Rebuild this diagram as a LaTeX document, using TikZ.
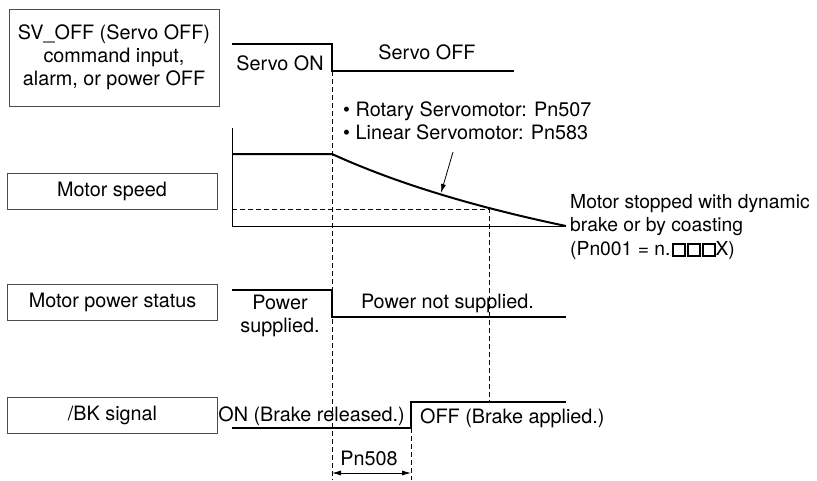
\documentclass[tikz,border=0pt]{standalone}
\usepackage{fontspec}
\setmainfont{TeX Gyre Heros}
\usetikzlibrary{arrows.meta, positioning}

\newcommand{\nsq}{\kern1pt{\setlength\fboxsep{0pt}\setlength\fboxrule{2pt}\fbox{\rule{0pt}{10pt}\hspace{10pt}}}}

\begin{document}
\begin{tikzpicture}[x=1pt, y=-1pt,
  font=\fontsize{19.8}{23}\selectfont,
  lbl/.style={draw=black!70, line width=0.9pt, minimum width=210pt, minimum height=36pt, align=center, inner sep=2pt},
  sig/.style={line width=2pt, line join=miter},
  guide/.style={line width=0.8pt, dash pattern=on 5pt off 3pt},
  tip/.style={-{Latex[length=9pt, width=5pt]}, line width=0.8pt},
  dim/.style={{Latex[length=9pt, width=5pt]}-{Latex[length=9pt, width=5pt]}, line width=0.8pt},
  txt/.style={inner sep=0pt}]

  \useasboundingbox (0,0) rectangle (817,480);

  % signal names
  \node[lbl, minimum height=97pt] (cmd) at (114,57.5) {SV\_OFF (Servo OFF)\\command input,\\alarm, or power OFF};
  \node[lbl] (speed) at (112,191) {Motor speed};
  \node[lbl] (power) at (112.5,302) {Motor power status};
  \node[lbl] (bk) at (112.5,415) {/BK signal};

  % timing points
  \coordinate (t0) at (332,71);
  \coordinate (t0b) at (332,480);
  \coordinate (t1) at (411,428);
  \coordinate (t1b) at (411,480);

  % servo command
  \draw[sig] (232,44) -| (t0) -- (514,71);
  \node[txt, anchor=base] (son) at (280,70) {Servo ON};
  \node[txt, anchor=base] (soff) at (427,59) {Servo OFF};

  % motor speed
  \draw[line width=0.9pt] (232,128) |- (566,226);
  \draw[sig] (232,154) -- (332,154) .. controls (400,185) and (480,208) .. (566,226);
  \draw[guide] (232,209) -| (489,402);
  \node[txt, anchor=base west, align=left] (decel) at (343,139) {\textbullet\ Rotary Servomotor: Pn507\\\textbullet\ Linear Servomotor: Pn583};
  \coordinate (decel tail) at (453,152);
  \coordinate (decel head) at (441,193);
  \draw[tip] (decel tail) -- (decel head);
  \node[txt, anchor=base west, align=left, font=\fontsize{19.3}{23.5}\selectfont] (stopnote) at (570,255) {Motor stopped with dynamic\\brake or by coasting\\(Pn001 = n.\nsq\nsq\nsq X)};

  % motor power
  \draw[sig] (232,290) -| (332,317) -- (566,317);
  \node[txt, anchor=base, align=center] (pon) at (280,332) {Power\\supplied.};
  \node[txt, anchor=base east] (poff) at (534,308) {Power not supplied.};

  % brake signal
  \draw[sig] (232,428) -| (411,402) -- (566,402);
  \node[txt, anchor=base east] (bkon) at (405,421) {ON (Brake released.)};
  \node[txt, anchor=base west] (bkoff) at (420,423) {OFF (Brake applied.)};

  % guides
  \draw[guide] (t0) -- (t0b);
  \draw[guide] (t1) -- (t1b);
  \coordinate (d0) at (332,473);
  \coordinate (d1) at (411,473);
  \draw[dim] (d0) -- (d1);
  \node[txt, anchor=base] (delay) at (369,465) {Pn508};

\end{tikzpicture}
\end{document}
